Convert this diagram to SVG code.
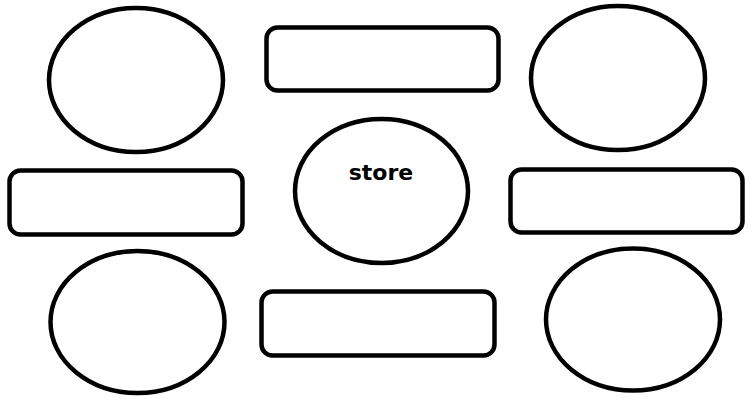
<svg xmlns="http://www.w3.org/2000/svg" width="751" height="398" viewBox="0 0 751 398">
<style>
.s{fill:#fff;stroke:#000;stroke-width:4.5}
.t{font-family:"Comic Sans MS","DejaVu Sans",sans-serif;font-weight:bold;font-size:22px;fill:#000;text-anchor:middle}
</style>
<rect width="751" height="398" fill="#fff"/>
<g id="connectors"></g>
<g id="ellipse-top-left"><ellipse class="s" cx="136" cy="80" rx="87" ry="72"/></g>
<g id="box-top"><rect class="s" x="266.5" y="27.5" width="232" height="63" rx="11"/></g>
<g id="ellipse-top-right"><ellipse class="s" cx="618" cy="78" rx="87" ry="72"/></g>
<g id="box-mid-left"><rect class="s" x="9.5" y="170.5" width="233" height="64" rx="11"/></g>
<g id="store"><ellipse class="s" cx="381.5" cy="191" rx="86.5" ry="72"/><text class="t" x="381" y="180">store</text></g>
<g id="box-mid-right"><rect class="s" x="510.5" y="169.5" width="232" height="63" rx="11"/></g>
<g id="ellipse-bottom-left"><ellipse class="s" cx="137.5" cy="322" rx="87" ry="71"/></g>
<g id="box-bottom"><rect class="s" x="261.5" y="291.5" width="233" height="64" rx="11"/></g>
<g id="ellipse-bottom-right"><ellipse class="s" cx="633" cy="319.5" rx="87" ry="71"/></g>
</svg>
